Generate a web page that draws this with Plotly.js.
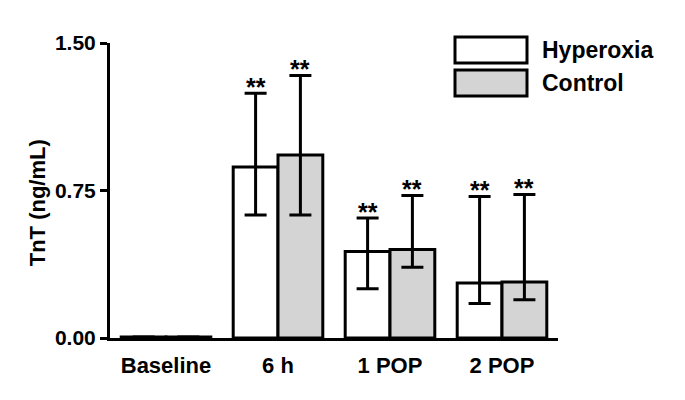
<!DOCTYPE html>
<html>
<head>
<meta charset="utf-8">
<script src="https://cdn.plot.ly/plotly-3.0.1.min.js"></script>
<style>
  html, body { margin: 0; padding: 0; background: #fff; }
  #chart { width: 685px; height: 400px; }
</style>
</head>
<body>
<div id="chart"></div>
<script>
// 時点ごとの TnT（平均値と誤差範囲）
const timePoints = ['Baseline', '6 h', '1 POP', '2 POP'];

const hyperoxiaMean = [0.005, 0.87, 0.44, 0.28];
const hyperoxiaErrPlus = [0, 0.375, 0.17, 0.44];
const hyperoxiaErrMinus = [0, 0.245, 0.19, 0.105];

const controlMean = [0.005, 0.93, 0.45, 0.285];
const controlErrPlus = [0, 0.405, 0.275, 0.445];
const controlErrMinus = [0, 0.305, 0.09, 0.09];

// 有意差マーク（Baseline は無し）
const sigMarks = ['', '**', '**', '**'];

const yTickVals = [0, 0.75, 1.5];
const yTickText = ['0.00', '0.75', '1.50'];

const FONT = 'Liberation Sans, Arial, sans-serif';

function barTrace(name, mean, plus, minus, fill) {
    return {
        type: 'bar',
        name: name,
        x: timePoints,
        y: mean,
        marker: { color: fill, line: { color: '#000', width: 3 } },
        error_y: {
            type: 'data',
            symmetric: false,
            array: plus,
            arrayminus: minus,
            color: '#000',
            thickness: 3,
            width: 11,
            visible: true
        },
        hoverinfo: 'skip'
    };
}

const data = [
    barTrace('Hyperoxia', hyperoxiaMean, hyperoxiaErrPlus, hyperoxiaErrMinus, '#ffffff'),
    barTrace('Control', controlMean, controlErrPlus, controlErrMinus, '#d4d4d4')
];

// ** 注記（各エラーバー上端の上）
const annotations = [];
[[hyperoxiaMean, hyperoxiaErrPlus, -22.4], [controlMean, controlErrPlus, 22.4]].forEach(([m, p, shift]) => {
    timePoints.forEach((t, i) => {
        if (!sigMarks[i]) return;
        annotations.push({
            x: t, y: m[i] + p[i], xref: 'x', yref: 'y',
            text: '<b>' + sigMarks[i] + '</b>',
            showarrow: false, xshift: shift, yshift: -10,
            xanchor: 'center', yanchor: 'bottom',
            font: { family: FONT, size: 25, color: '#000' }
        });
    });
});

// y軸タイトル
annotations.push({
    xref: 'paper', yref: 'paper', x: -0.163, y: 0.46,
    text: '<b>TnT (ng/mL)</b>', textangle: -90, showarrow: false,
    xanchor: 'center', yanchor: 'middle',
    font: { family: FONT, size: 22, color: '#000' }
});

// 凡例（自前で描画）
const legendItems = [['Hyperoxia', '#ffffff'], ['Control', '#d4d4d4']];
const shapes = [];
legendItems.forEach(([label, fill], i) => {
    const top = 37 + i * 33;
    const bottom = top + 26;
    shapes.push({
        type: 'rect', xref: 'paper', yref: 'paper',
        x0: (455 - 110) / 448, x1: (527 - 110) / 448,
        y0: (338 - bottom) / 295, y1: (338 - top) / 295,
        fillcolor: fill, line: { color: '#000', width: 3 }
    });
    annotations.push({
        xref: 'paper', yref: 'paper',
        x: (540 - 110) / 448, y: (338 - (top + 13)) / 295,
        text: '<b>' + label + '</b>', showarrow: false,
        xanchor: 'left', yanchor: 'middle',
        font: { family: FONT, size: 23, color: '#000' }
    });
});

const layout = {
    width: 685,
    height: 400,
    margin: { l: 110, r: 127, t: 43, b: 62 },
    paper_bgcolor: '#fff',
    plot_bgcolor: '#fff',
    showlegend: false,
    barmode: 'group',
    bargap: 0.2,
    bargroupgap: 0,
    font: { family: FONT, color: '#000' },
    xaxis: {
        type: 'category',
        range: [-0.5, 3.5],
        showline: true, linecolor: '#000', linewidth: 3,
        ticks: '', showgrid: false, zeroline: false,
        ticklabelstandoff: 6,
        tickfont: { family: FONT, size: 22, color: '#000', weight: 'bold' },
        fixedrange: true
    },
    yaxis: {
        range: [0, 1.5],
        tickvals: yTickVals, ticktext: yTickText,
        showline: true, linecolor: '#000', linewidth: 3,
        ticks: 'outside', ticklen: 7, tickwidth: 3, tickcolor: '#000',
        showgrid: false, zeroline: false,
        tickfont: { family: FONT, size: 21, color: '#000', weight: 'bold' },
        fixedrange: true
    },
    shapes: shapes,
    annotations: annotations
};

Plotly.newPlot('chart', data, layout, { staticPlot: true, displayModeBar: false });
</script>
</body>
</html>
